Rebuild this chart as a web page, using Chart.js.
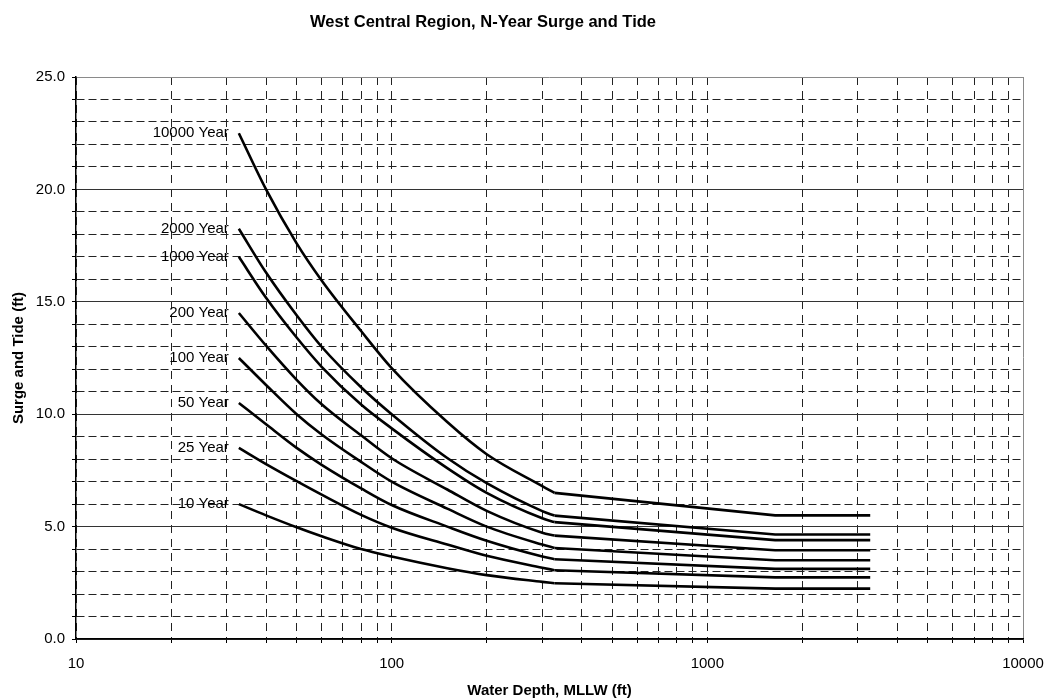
<!DOCTYPE html>
<html>
<head>
<meta charset="utf-8">
<script src="https://cdn.jsdelivr.net/npm/chart.js"></script>
<style>
    body { margin: 0; background: #fff; }
    #wrap { width: 1047px; height: 698px; }
</style>
</head>
<body>
<div id="wrap"><canvas id="surgeChart"></canvas></div>
<script>
// water depth (ft), shared by every curve
const depth = [32.8, 40, 50, 60, 80, 100, 150, 200, 300, 328, 1640, 3281];
const kink = 9; // index where the curve turns into straight segments

const seriesNames = ['10000 Year', '2000 Year', '1000 Year', '200 Year', '100 Year', '50 Year', '25 Year', '10 Year'];
const yr10000 = [22.5, 20.0, 17.6, 15.95, 13.7, 12.05, 9.65, 8.22, 6.8, 6.5, 5.5, 5.5];
const yr2000 = [18.25, 16.3, 14.4, 13.0, 11.2, 10.0, 8.05, 6.93, 5.69, 5.49, 4.65, 4.65];
const yr1000 = [17.0, 15.18, 13.41, 12.11, 10.43, 9.37, 7.6, 6.5, 5.37, 5.2, 4.4, 4.4];
const yr200 = [14.5, 13.05, 11.53, 10.44, 9.06, 8.04, 6.65, 5.7, 4.73, 4.6, 3.95, 3.95];
const yr100 = [12.5, 11.3, 10.0, 9.1, 7.88, 7.0, 5.8, 5.0, 4.2, 4.05, 3.5, 3.5];
const yr50 = [10.5, 9.55, 8.5, 7.75, 6.7, 5.96, 5.0, 4.37, 3.67, 3.55, 3.12, 3.12];
const yr25 = [8.5, 7.78, 7.02, 6.42, 5.52, 4.95, 4.2, 3.7, 3.17, 3.06, 2.74, 2.74];
const yr10 = [6.0, 5.5, 4.97, 4.57, 4.0, 3.67, 3.15, 2.84, 2.54, 2.48, 2.24, 2.24];
const seriesValues = [yr10000, yr2000, yr1000, yr200, yr100, yr50, yr25, yr10];

const xTicks = [];
for (let p = 10; p < 10000; p *= 10) {
    for (let m = 1; m < 10; m++) xTicks.push(m * p);
}
xTicks.push(10000);

const FONT = "'Liberation Sans', Arial, sans-serif";

function pts(values, from, to) {
    const out = [];
    for (let i = from; i <= to; i++) out.push({x: depth[i], y: values[i]});
    return out;
}

// each curve = smooth part up to the kink + straight part after it
const datasets = [];
seriesValues.forEach((vals, i) => {
    datasets.push({
        label: seriesNames[i],
        data: pts(vals, 0, kink),
        borderColor: '#000',
        borderWidth: 2.6,
        pointRadius: 0,
        cubicInterpolationMode: 'monotone',
        fill: false,
        curveLabel: true
    });
    datasets.push({
        label: seriesNames[i] + ' tail',
        data: pts(vals, kink, depth.length - 1),
        borderColor: '#000',
        borderWidth: 2.6,
        pointRadius: 0,
        tension: 0,
        fill: false
    });
});

// text next to the start of each curve
const curveLabels = {
    id: 'curveLabels',
    afterDatasetsDraw(chart) {
        const ctx = chart.ctx;
        ctx.save();
        ctx.font = '15px ' + FONT;
        ctx.fillStyle = '#000';
        ctx.textAlign = 'right';
        ctx.textBaseline = 'middle';
        chart.data.datasets.forEach((ds, i) => {
            if (!ds.curveLabel) return;
            const p = chart.getDatasetMeta(i).data[0];
            ctx.fillText(ds.label, p.x - 10, p.y);
        });
        ctx.restore();
    }
};

// title sits a bit left of centre in the original
const chartTitle = {
    id: 'chartTitle',
    afterDraw(chart) {
        const ctx = chart.ctx;
        ctx.save();
        ctx.font = 'bold 16.5px ' + FONT;
        ctx.fillStyle = '#000';
        ctx.textAlign = 'center';
        ctx.textBaseline = 'middle';
        ctx.fillText('West Central Region, N-Year Surge and Tide', 483, 22);
        ctx.restore();
    }
};

const config = {
    type: 'line',
    data: {datasets: datasets},
    options: {
        responsive: true,
        maintainAspectRatio: false,
        animation: false,
        layout: {padding: {left: 0, right: 24, top: 77, bottom: 0}},
        plugins: {
            legend: {display: false},
            tooltip: {enabled: false},
            title: {display: false}
        },
        scales: {
            x: {
                type: 'logarithmic',
                min: 10,
                max: 10000,
                afterBuildTicks: (scale) => {
                    scale.ticks = xTicks.map(v => ({value: v}));
                },
                afterFit: (scale) => {
                    scale.height = 59;
                    scale.paddingLeft = 0;
                    scale.paddingRight = 0;
                },
                ticks: {
                    autoSkip: false,
                    maxRotation: 0,
                    padding: 12,
                    color: '#000',
                    font: {family: FONT, size: 15},
                    callback: (v) => {
                        const l = Math.log10(v);
                        return Math.abs(l - Math.round(l)) < 1e-9 ? String(v) : '';
                    }
                },
                grid: {
                    color: (ctx) => (ctx.tick && ctx.tick.value === 10000) ? '#8a8a8a' : '#222',
                    lineWidth: 1,
                    tickLength: 4,
                    tickColor: '#000'
                },
                border: {
                    color: '#000',
                    width: 1.5,
                    dash: (ctx) => (ctx.tick && ctx.tick.value < 10000) ? [8, 6] : []
                },
                title: {
                    display: true,
                    text: 'Water Depth, MLLW (ft)',
                    color: '#000',
                    font: {family: FONT, size: 15, weight: 'bold', lineHeight: 1.0},
                    padding: {top: 0, bottom: 0}
                }
            },
            y: {
                min: 0,
                max: 25,
                afterFit: (scale) => {
                    scale.width = 76;
                    scale.paddingTop = 0;
                    scale.paddingBottom = 0;
                },
                ticks: {
                    stepSize: 1,
                    padding: 7,
                    color: '#000',
                    font: {family: FONT, size: 15},
                    callback: (v) => v % 5 === 0 ? v.toFixed(1) : ''
                },
                grid: {
                    color: (ctx) => {
                        if (!ctx.tick) return '#222';
                        if (ctx.tick.value === 25) return '#8a8a8a';
                        return ctx.tick.value % 5 === 0 ? '#333' : '#222';
                    },
                    lineWidth: 1,
                    tickLength: 4,
                    tickColor: '#000'
                },
                border: {
                    color: '#000',
                    width: 1.5,
                    dash: (ctx) => (ctx.tick && ctx.tick.value % 5 !== 0) ? [8, 4] : []
                },
                title: {
                    display: true,
                    text: 'Surge and Tide (ft)',
                    color: '#000',
                    font: {family: FONT, size: 15, weight: 'bold'},
                    padding: {top: 10, bottom: 0}
                }
            }
        }
    },
    plugins: [curveLabels, chartTitle]
};

const surgeChart = new Chart(document.getElementById('surgeChart'), config);
</script>
</body>
</html>
